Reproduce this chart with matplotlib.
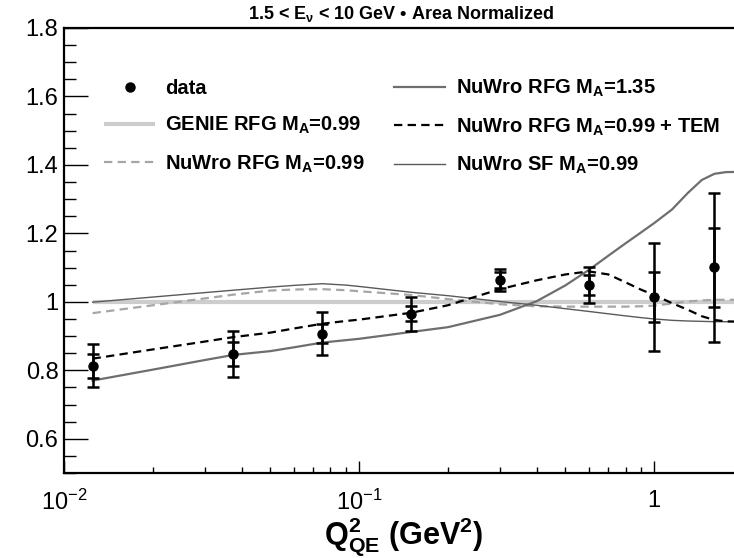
import numpy as np
import matplotlib
matplotlib.use("Agg")
import matplotlib.pyplot as plt
from matplotlib.ticker import FixedLocator, MultipleLocator, NullFormatter

plt.rcParams['font.family'] = ['Liberation Sans', 'DejaVu Sans']
plt.rcParams['mathtext.fontset'] = 'custom'
plt.rcParams['mathtext.rm'] = 'Liberation Sans'
plt.rcParams['mathtext.bf'] = 'Liberation Sans:bold'
plt.rcParams['mathtext.it'] = 'Liberation Sans:italic'
plt.rcParams['lines.scale_dashes'] = False

# measured ratio to GENIE, bin centres in Q2_QE (GeV^2)
q2_data = [0.0125, 0.0375, 0.075, 0.15, 0.3, 0.6, 1.0, 1.6]
ratio_data = [0.813, 0.848, 0.907, 0.965, 1.064, 1.050, 1.014, 1.101]
stat_err = [0.035, 0.036, 0.027, 0.022, 0.023, 0.029, 0.074, 0.116]
total_err = [0.063, 0.068, 0.063, 0.049, 0.033, 0.053, 0.159, 0.218]

# model curves (ratio to GENIE RFG)
q2_model = [0.0125, 0.02, 0.03, 0.0375, 0.05, 0.06, 0.075, 0.09, 0.1, 0.15,
            0.2, 0.3, 0.4, 0.5, 0.6, 0.7, 0.8, 0.9, 1.0, 1.15, 1.3, 1.45,
            1.6, 1.75, 2.0]
genie_rfg = [1.0] * 25
nuwro_rfg = [0.967, 0.990, 1.010, 1.021, 1.033, 1.036, 1.037, 1.034, 1.031,
             1.020, 1.008, 0.993, 0.987, 0.986, 0.986, 0.986, 0.986, 0.987,
             0.989, 0.995, 1.001, 1.004, 1.006, 1.006, 1.006]
nuwro_rfg135 = [0.770, 0.802, 0.830, 0.845, 0.856, 0.867, 0.881, 0.888, 0.892,
                0.912, 0.926, 0.962, 1.002, 1.048, 1.093, 1.135, 1.171, 1.202,
                1.230, 1.270, 1.318, 1.356, 1.374, 1.379, 1.380]
nuwro_tem = [0.834, 0.861, 0.884, 0.897, 0.910, 0.922, 0.936, 0.944, 0.948,
             0.968, 0.990, 1.037, 1.063, 1.080, 1.089, 1.080, 1.057, 1.036,
             1.020, 0.996, 0.977, 0.958, 0.947, 0.943, 0.942]
nuwro_sf = [0.999, 1.014, 1.027, 1.034, 1.043, 1.048, 1.053, 1.049, 1.045,
            1.028, 1.018, 1.001, 0.990, 0.980, 0.972, 0.965, 0.959, 0.954,
            0.950, 0.946, 0.944, 0.943, 0.942, 0.942, 0.942]

fig = plt.figure(figsize=(7.34, 5.58), dpi=100)
ax = fig.add_axes([64/734, 85/558, 679/734, 445/558])

ax.plot(q2_model, genie_rfg, color='#cdcdcd', lw=3.0, solid_capstyle='butt',
        label=r'GENIE RFG $\mathbf{M_A}$=0.99', zorder=2)
ax.plot(q2_model, nuwro_rfg, color='#a6a6a6', lw=1.6, dashes=(6, 3.8),
        label=r'NuWro RFG $\mathbf{M_A}$=0.99', zorder=3)
ax.plot(q2_model, nuwro_rfg135, color='#6e6e6e', lw=1.6,
        label=r'NuWro RFG $\mathbf{M_A}$=1.35', zorder=3)
ax.plot(q2_model, nuwro_tem, color='black', lw=1.6, dashes=(6, 3.8),
        label=r'NuWro RFG $\mathbf{M_A}$=0.99 + TEM', zorder=4)
ax.plot(q2_model, nuwro_sf, color='#5a5a5a', lw=1.0,
        label=r'NuWro SF $\mathbf{M_A}$=0.99', zorder=3)

ax.errorbar(q2_data, ratio_data, yerr=total_err, fmt='none', ecolor='black',
            elinewidth=1.8, capsize=4.5, capthick=1.8, zorder=5)
ax.errorbar(q2_data, ratio_data, yerr=stat_err, fmt='none', ecolor='black',
            elinewidth=1.8, capsize=4.5, capthick=1.8, zorder=5)
ax.plot(q2_data, ratio_data, 'o', color='black', ms=6.5, ls='none',
        label='data', zorder=6)

ax.set_xscale('log')
ax.set_xlim(0.01, 2.0)
ax.set_ylim(0.5, 1.8)

ax.xaxis.set_major_locator(FixedLocator([0.01, 0.1, 1.0]))
ax.set_xticklabels([r'$\mathregular{10^{-2}}$', r'$\mathregular{10^{-1}}$', '1'])
ax.xaxis.set_minor_locator(FixedLocator(
    [m * d for d in (0.01, 0.1, 1.0) for m in range(2, 10)]))
ax.xaxis.set_minor_formatter(NullFormatter())
ax.yaxis.set_major_locator(FixedLocator([0.6, 0.8, 1.0, 1.2, 1.4, 1.6, 1.8]))
ax.set_yticklabels(['0.6', '0.8', '1', '1.2', '1.4', '1.6', '1.8'])
ax.yaxis.set_minor_locator(MultipleLocator(0.05))

ax.tick_params(axis='both', which='both', direction='in', width=1.0,
               labelsize=17, color='black')
ax.tick_params(axis='x', which='major', length=9, pad=12)
ax.tick_params(axis='x', which='minor', length=4.5)
ax.tick_params(axis='y', which='major', length=17, pad=4)
ax.tick_params(axis='y', which='minor', length=8.5)
for side in ('left', 'bottom', 'top'):
    ax.spines[side].set_linewidth(1.6)
ax.spines['right'].set_visible(False)

ax.set_xlabel(r'$\mathbf{Q^2_{QE}}$ (GeV$\mathbf{^2}$)', fontsize=22,
              fontweight='bold', labelpad=0)

fig.text(401/734, 1 - 14/558,
         r'1.5 < E$_\mathbf{\nu}$ < 10 GeV • Area Normalized',
         ha='center', va='center', fontsize=13, fontweight='bold')

handles, labels = ax.get_legend_handles_labels()
order = ['data', r'GENIE RFG $\mathbf{M_A}$=0.99', r'NuWro RFG $\mathbf{M_A}$=0.99',
         r'NuWro RFG $\mathbf{M_A}$=1.35', r'NuWro RFG $\mathbf{M_A}$=0.99 + TEM',
         r'NuWro SF $\mathbf{M_A}$=0.99']
hmap = dict(zip(labels, handles))
ax.legend([hmap[k] for k in order], order, ncol=2, loc='upper left',
          bbox_to_anchor=((104 - 64) / 679, (473 - 78) / 445),
          frameon=False, borderpad=0, borderaxespad=0,
          handlelength=2.55, handletextpad=0.5, columnspacing=1.45,
          labelspacing=0.85, prop={'size': 14.5, 'weight': 'bold'})

fig.savefig('out.png', dpi=100)
